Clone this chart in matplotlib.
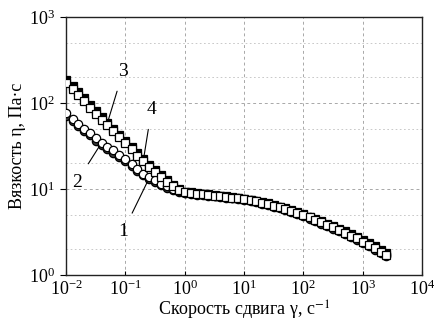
import matplotlib
matplotlib.use("Agg")
import matplotlib.pyplot as plt
from matplotlib.ticker import LogLocator, LogFormatterMathtext, NullFormatter

plt.rcParams['font.family'] = ['Liberation Serif', 'DejaVu Serif']
plt.rcParams['mathtext.fontset'] = 'stix'

# shear rate, 1/s
shear_rate = [0.010, 0.013, 0.016, 0.020, 0.025, 0.032, 0.040, 0.050, 0.063, 0.079,
              0.10, 0.13, 0.16, 0.20, 0.25, 0.32, 0.40, 0.50, 0.63, 0.79,
              1.0, 1.3, 1.6, 2.0, 2.5, 3.2, 4.0, 5.0, 6.3, 7.9,
              10, 13, 16, 20, 25, 32, 40, 50, 63, 79,
              100, 130, 160, 200, 250, 320, 400, 500, 630, 790,
              1000, 1300, 1600, 2000, 2500]

# viscosity, Pa*s
visc_1 = [70, 61, 53.5, 47, 42, 36.5, 32.5, 29, 26.5, 23.7,
          21.2, 18.6, 16.3, 14.5, 13.2, 12.1, 11.1, 10.4, 9.8, 9.3,
          8.9, 8.75, 8.60, 8.48, 8.34, 8.19, 8.05, 7.91, 7.76, 7.60,
          7.42, 7.22, 7.00, 6.76, 6.51, 6.25, 5.98, 5.69, 5.40, 5.10,
          4.81, 4.53, 4.25, 3.97, 3.71, 3.45, 3.21, 2.98, 2.76, 2.55,
          2.35, 2.16, 1.97, 1.80, 1.66]
visc_2 = [76, 66, 57.5, 50, 44.7, 38.9, 34.7, 30.9, 28.2, 25.1,
          22.4, 19.5, 17.0, 15.1, 13.8, 12.6, 11.5, 10.7, 10.0, 9.5,
          9.1, 8.95, 8.80, 8.66, 8.52, 8.36, 8.22, 8.08, 7.92, 7.76,
          7.58, 7.38, 7.16, 6.92, 6.67, 6.40, 6.12, 5.83, 5.54, 5.24,
          4.95, 4.67, 4.39, 4.11, 3.85, 3.59, 3.35, 3.11, 2.88, 2.67,
          2.46, 2.26, 2.06, 1.88, 1.74]
visc_3 = [186, 158, 135, 115, 95, 81, 69, 59, 50, 43,
          36, 31, 26, 22.4, 19.1, 16.6, 14.5, 12.6, 11.2, 10.0,
          9.3, 9.15, 9.00, 8.86, 8.70, 8.55, 8.40, 8.25, 8.09, 7.92,
          7.74, 7.53, 7.30, 7.05, 6.80, 6.53, 6.25, 5.96, 5.66, 5.36,
          5.07, 4.78, 4.50, 4.22, 3.96, 3.70, 3.46, 3.22, 2.99, 2.78,
          2.56, 2.36, 2.15, 1.97, 1.82]
visc_4 = [170, 145, 124, 105, 88, 75, 64, 55, 47, 40,
          34, 29, 24.5, 21, 18, 15.8, 13.9, 12.2, 10.9, 9.8,
          9.2, 8.98, 8.84, 8.70, 8.55, 8.40, 8.25, 8.10, 7.94, 7.78,
          7.60, 7.40, 7.18, 6.93, 6.68, 6.41, 6.13, 5.84, 5.55, 5.25,
          4.96, 4.67, 4.38, 4.10, 3.84, 3.58, 3.34, 3.10, 2.87, 2.66,
          2.45, 2.25, 2.05, 1.87, 1.73]

x_ticks = [1e-2, 1e-1, 1e0, 1e1, 1e2, 1e3, 1e4]
y_ticks = [1e0, 1e1, 1e2, 1e3]

fig = plt.figure(figsize=(4.35, 3.24), dpi=100)
ax = fig.add_axes([66/435, 49/324, 356/435, 258/324])

ms = 6.0
mew = 0.9
ax.plot(shear_rate, visc_1, 'o', ms=ms, mfc='#3a3a3a', mec='black', mew=mew, zorder=3)
ax.plot(shear_rate, visc_2, 'o', ms=ms, mfc='white', mec='black', mew=mew, zorder=4)
ax.plot(shear_rate, visc_3, 's', ms=ms, mfc='black', mec='black', mew=mew, zorder=3)
ax.plot(shear_rate, visc_4, 's', ms=ms, mfc='white', mec='black', mew=mew, zorder=4)

ax.set_xscale('log')
ax.set_yscale('log')
ax.set_xlim(1e-2, 1e4)
ax.set_ylim(1e0, 1e3)
ax.set_xticks(x_ticks)
ax.set_yticks(y_ticks)
ax.xaxis.set_major_formatter(LogFormatterMathtext())
ax.yaxis.set_major_formatter(LogFormatterMathtext())
ax.xaxis.set_minor_formatter(NullFormatter())
ax.yaxis.set_minor_formatter(NullFormatter())
ax.tick_params(which='minor', length=0)
ax.tick_params(axis='x', which='major', direction='in', length=3, pad=3, labelsize=13)
ax.tick_params(axis='y', which='major', direction='out', length=4, pad=4, labelsize=13)

ax.yaxis.set_minor_locator(LogLocator(base=10, subs=[2, 5]))
ax.grid(True, which='major', ls=(0, (3, 3)), color='#a8a8a8', lw=0.7)
ax.grid(True, which='minor', axis='y', ls=(0, (2, 3)), color='#c0c0c0', lw=0.6)
ax.set_axisbelow(True)

for s in ax.spines.values():
    s.set_linewidth(1.0)
    s.set_color('#222222')

ax.set_xlabel('Скорость сдвига γ, с$^{-1}$', fontsize=13, labelpad=0)
ax.set_ylabel('Вязкость η, Па·с', fontsize=13, labelpad=2)

lab_kw = dict(fontsize=14, ha='center', va='center', textcoords='axes fraction',
              arrowprops=dict(arrowstyle='-', color='black', lw=0.8, shrinkA=6, shrinkB=0))
ax.annotate('3', xy=(shear_rate[7], visc_3[7]), xytext=(0.16, 0.787), **lab_kw)
ax.annotate('4', xy=(shear_rate[13], visc_4[13]), xytext=(0.24, 0.64), **lab_kw)
ax.annotate('2', xy=(shear_rate[6], visc_2[6]), xytext=(0.03, 0.36), **lab_kw)
ax.annotate('1', xy=(shear_rate[14], visc_1[14]), xytext=(0.16, 0.167), **lab_kw)

fig.savefig('out.png', dpi=100)
